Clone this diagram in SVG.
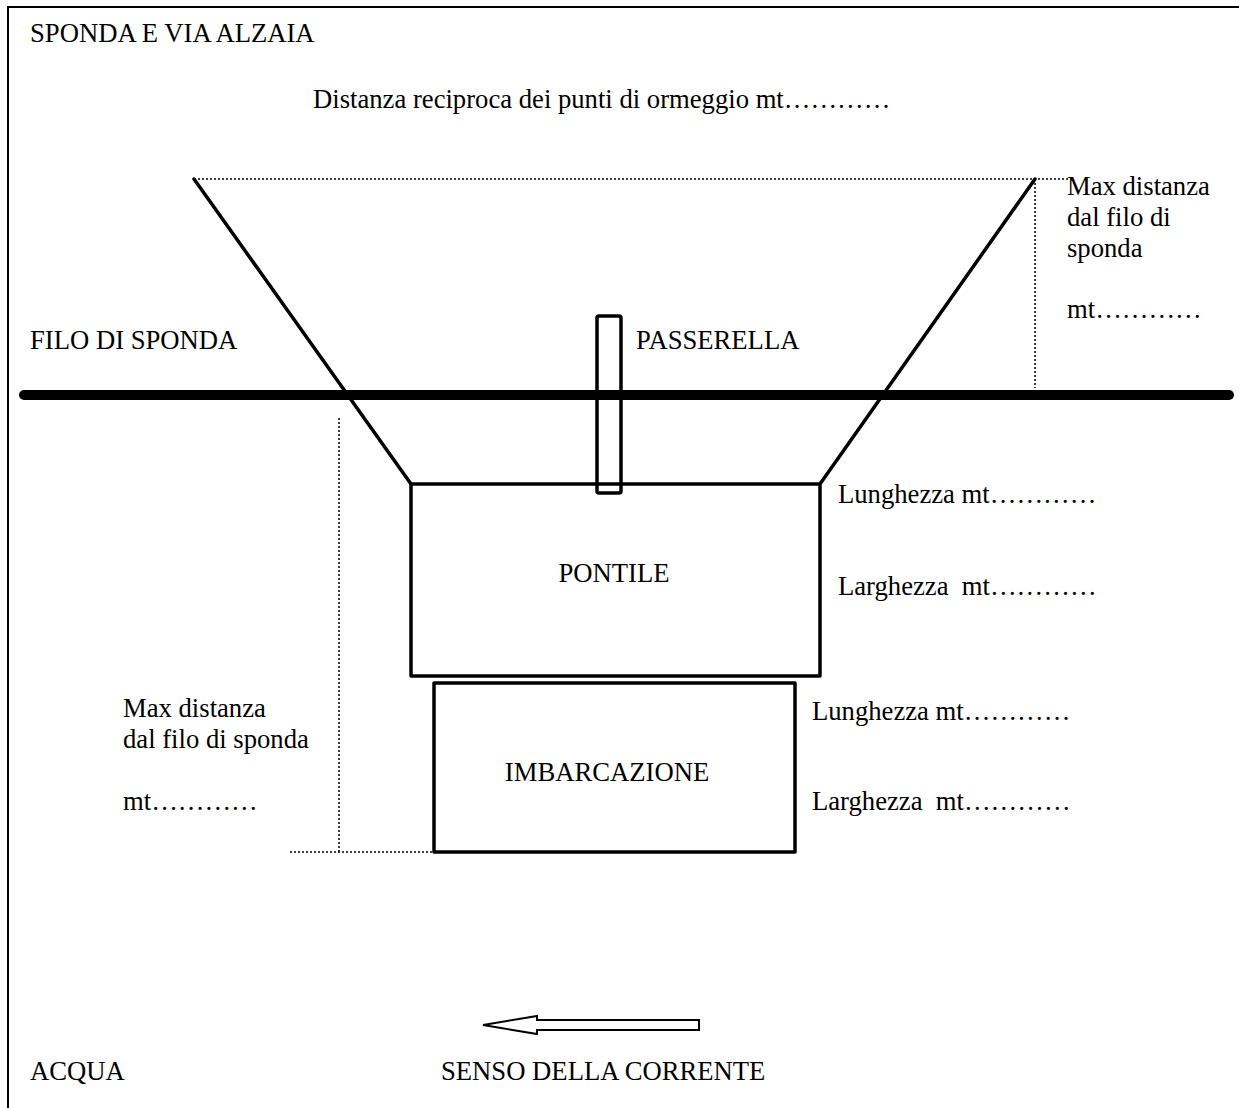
<svg xmlns="http://www.w3.org/2000/svg" width="1239" height="1108" viewBox="0 0 1239 1108">
<style>
text{font-family:"Liberation Serif","Times New Roman",serif;font-size:26.67px;fill:#000;white-space:pre}
.box{fill:none;stroke:#000;stroke-width:3.5;stroke-linejoin:round}
.dot{fill:none;stroke:#000;stroke-width:1.5;stroke-dasharray:2 2}
.line{fill:none;stroke:#000;stroke-width:3.5;stroke-linecap:round}
</style>
<rect width="1239" height="1108" fill="#fff"/>
<g id="frame">
<path d="M8 1108 V7 H1239" fill="none" stroke="#000" stroke-width="2"/>
</g>
<g id="labels">
<text x="30" y="42">SPONDA E VIA ALZAIA</text>
<text x="313" y="108">Distanza reciproca dei punti di ormeggio mt…………</text>
<text x="30" y="349">FILO DI SPONDA</text>
<text x="1067" y="195">Max distanza</text>
<text x="1067" y="226">dal filo di</text>
<text x="1067" y="257">sponda</text>
<text x="1067" y="318">mt…………</text>
<text x="123" y="717">Max distanza</text>
<text x="123" y="748">dal filo di sponda</text>
<text x="123" y="810">mt…………</text>
<text x="30" y="1080">ACQUA</text>
<text x="441" y="1080">SENSO DELLA CORRENTE</text>
</g>
<g id="connectors">
<path class="dot" d="M194 179 H1068"/>
<path class="dot" d="M1035 179 V388"/>
<path class="dot" d="M339 418 V852"/>
<path class="dot" d="M290 852 H434"/>
<path class="line" d="M194 179 L411 484"/>
<path class="line" d="M1035 179 L820 484"/>
</g>
<g id="filo-di-sponda">
<path d="M24 395 H1229" stroke="#000" stroke-width="10" stroke-linecap="round"/>
</g>
<g id="pontile">
<rect class="box" x="411" y="484" width="409" height="192" fill="#fff"/>
<text x="614" y="582" text-anchor="middle">PONTILE</text>
<text x="838" y="503">Lunghezza mt…………</text>
<text x="838" y="595">Larghezza  mt…………</text>
</g>
<g id="passerella">
<rect class="box" x="597" y="316" width="24" height="177" rx="2" fill="none"/>
<text x="636" y="349">PASSERELLA</text>
</g>
<g id="imbarcazione">
<rect class="box" x="434" y="683" width="361" height="169" fill="#fff"/>
<text x="607" y="781" text-anchor="middle">IMBARCAZIONE</text>
<text x="812" y="720">Lunghezza mt…………</text>
<text x="812" y="810">Larghezza  mt…………</text>
</g>
<g id="arrow">
<path d="M483 1025 L537 1016 V1020 H699 V1030 H537 V1034 Z" fill="#fff" stroke="#000" stroke-width="2" stroke-linejoin="miter"/>
</g>
</svg>
